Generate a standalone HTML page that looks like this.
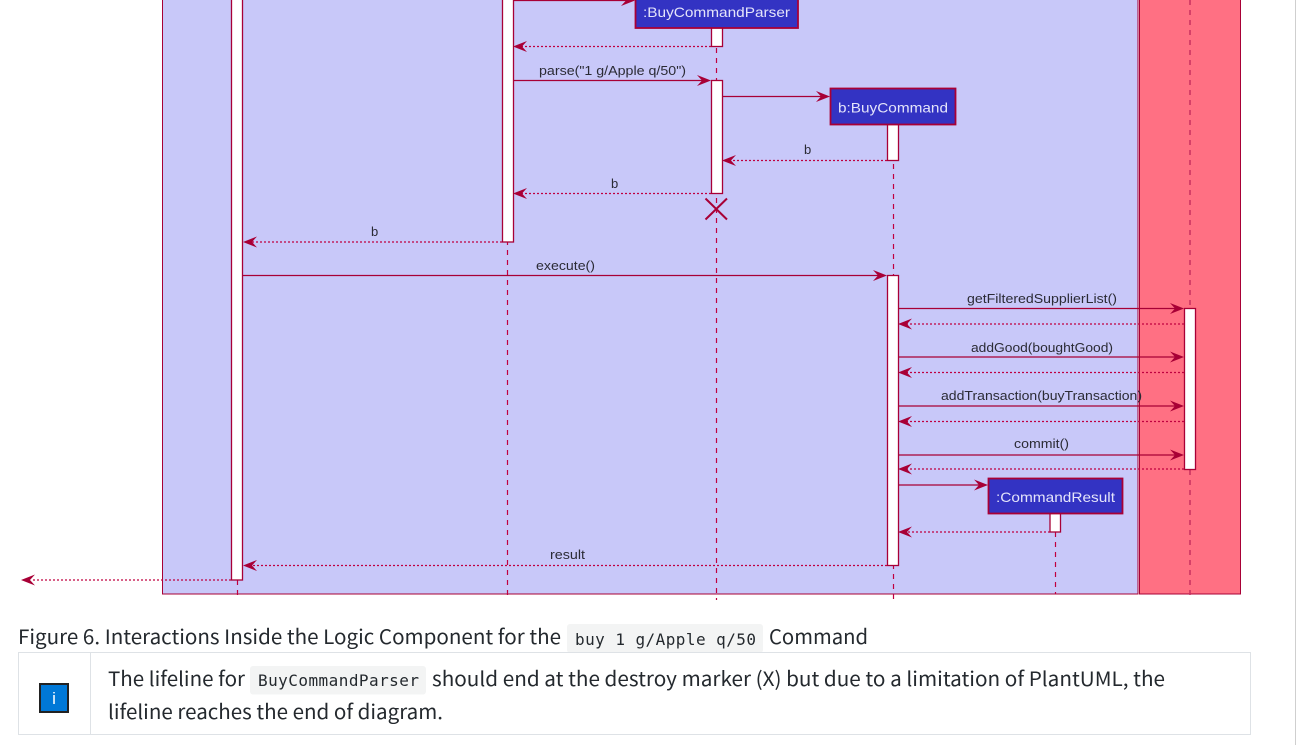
<!DOCTYPE html>
<html><head><meta charset="utf-8"><style>
html,body{margin:0;padding:0;background:#fff;width:1305px;height:745px;overflow:hidden}
svg{display:block}
.t{font-family:"Liberation Sans",sans-serif;font-size:13px;fill:#2b2b35}
.w{font-family:"Liberation Sans",sans-serif;font-size:14px;fill:#e4e4fa}
.c{font-family:"Noto Sans CJK JP","Liberation Sans",sans-serif;font-size:20px;fill:#24292e}
.m{font-family:"DejaVu Sans Mono",monospace;font-size:16px;fill:#24292e}
.l{stroke:#A80036;stroke-width:1.3;fill:none}
.d{stroke:#C00040;stroke-width:1.2;stroke-dasharray:2 2;fill:none}
.ll{stroke:#C00040;stroke-width:1.2;stroke-dasharray:5 5;fill:none}
.a{fill:#fff;stroke:#A80036;stroke-width:1.3}
.p{fill:#3333C3;stroke:#A80036;stroke-width:1.8}
.h{fill:#A80036}
</style></head><body>
<svg width="1305" height="745" viewBox="0 0 1305 745" xmlns="http://www.w3.org/2000/svg">
<rect x="162.5" y="-5" width="975.5" height="599" fill="#C8C8F9" stroke="#A80036" stroke-width="1"/>
<rect x="1139.5" y="-5" width="101" height="599" fill="#FF7083" stroke="#A80036" stroke-width="1"/>

<g class="ll">
<path d="M237.5 0V600"/><path d="M507.5 0V600"/><path d="M716.5 28V600"/><path d="M893.5 124V600"/><path d="M1055.5 532V594"/>
<path d="M1190 0V600" style="stroke:#C8305F;stroke-width:1.5"/>
</g>

<!-- activations -->
<rect class="a" x="231.5" y="-5" width="11" height="585"/>
<rect class="a" x="502.5" y="-5" width="11" height="247"/>
<rect class="a" x="711.5" y="20" width="11" height="26.5"/>
<rect class="a" x="711.5" y="80.5" width="11" height="113"/>
<rect class="a" x="887.5" y="120" width="11" height="40.5"/>
<rect class="a" x="887.5" y="275.5" width="11" height="290"/>
<rect class="a" x="1184.5" y="308.5" width="11" height="161"/>
<rect class="a" x="1050" y="510" width="10.5" height="22"/>

<!-- participants -->
<rect class="p" x="635.5" y="-8" width="162.5" height="36"/>
<text class="w" x="643" y="17" textLength="147" lengthAdjust="spacingAndGlyphs">:BuyCommandParser</text>
<rect class="p" x="830.5" y="88.5" width="125" height="36"/>
<text class="w" x="838" y="112.5" textLength="110" lengthAdjust="spacingAndGlyphs">b:BuyCommand</text>
<rect class="p" x="988.5" y="478.5" width="134" height="35"/>
<text class="w" x="996" y="502" textLength="119" lengthAdjust="spacingAndGlyphs">:CommandResult</text>

<!-- solid messages -->
<g class="l">
<path d="M513.5 0.5H626"/><path d="M513.5 80.5H702"/><path d="M722.5 96.5H822"/>
<path d="M243 275.5H878"/><path d="M898.5 308.5H1175"/><path d="M898.5 357H1175"/>
<path d="M898.5 406H1175"/><path d="M898.5 455H1175"/><path d="M898.5 485H979"/>
</g>
<!-- dashed messages -->
<g class="d">
<path d="M711 46.5H522"/><path d="M887 160.5H731"/><path d="M711 193.5H522"/>
<path d="M502 242H252"/><path d="M1184 324H907"/><path d="M1184 372.5H907"/>
<path d="M1184 421.5H907"/><path d="M1184 469H907"/><path d="M1050 532H907"/>
<path d="M887 565.5H252"/><path d="M231 580H31"/>
</g>
<!-- arrow heads right -->
<g class="h">
<polygon points="635,0.5 621,-5 626,0.5 621,6"/>
<polygon points="711,80.5 697,75 702,80.5 697,86"/>
<polygon points="830,96.5 816,91 821,96.5 816,102"/>
<polygon points="887,275.5 873,270 878,275.5 873,281"/>
<polygon points="1184,308.5 1170,303 1175,308.5 1170,314"/>
<polygon points="1184,357 1170,351.5 1175,357 1170,362.5"/>
<polygon points="1184,406 1170,400.5 1175,406 1170,411.5"/>
<polygon points="1184,455 1170,449.5 1175,455 1170,460.5"/>
<polygon points="988,485 974,479.5 979,485 974,490.5"/>
<!-- arrow heads left -->
<polygon points="513,46.5 527,41 522,46.5 527,52"/>
<polygon points="722,160.5 736,155 731,160.5 736,166"/>
<polygon points="513,193.5 527,188 522,193.5 527,199"/>
<polygon points="243,242 257,236.5 252,242 257,247.5"/>
<polygon points="898,324 912,318.5 907,324 912,329.5"/>
<polygon points="898,372.5 912,367 907,372.5 912,378"/>
<polygon points="898,421.5 912,416 907,421.5 912,427"/>
<polygon points="898,469 912,463.5 907,469 912,474.5"/>
<polygon points="898,532 912,526.5 907,532 912,537.5"/>
<polygon points="243,565.5 257,560 252,565.5 257,571"/>
<polygon points="21,580 35,574.5 30,580 35,585.5"/>
</g>
<path d="M705.5 198.5L727 219.5M727 198.5L705.5 219.5" stroke="#A80036" stroke-width="2" fill="none"/>

<!-- message labels -->
<text class="t" x="539" y="75" textLength="147" lengthAdjust="spacingAndGlyphs">parse("1 g/Apple q/50")</text>
<text class="t" x="804" y="154" textLength="7">b</text>
<text class="t" x="611" y="188" textLength="7">b</text>
<text class="t" x="371" y="236" textLength="7">b</text>
<text class="t" x="536" y="270" textLength="59" lengthAdjust="spacingAndGlyphs">execute()</text>
<text class="t" x="967" y="303" textLength="150" lengthAdjust="spacingAndGlyphs">getFilteredSupplierList()</text>
<text class="t" x="971" y="352" textLength="142" lengthAdjust="spacingAndGlyphs">addGood(boughtGood)</text>
<text class="t" x="941" y="400" textLength="201" lengthAdjust="spacingAndGlyphs">addTransaction(buyTransaction)</text>
<text class="t" x="1014" y="448" textLength="55" lengthAdjust="spacingAndGlyphs">commit()</text>
<text class="t" x="550" y="559" textLength="35" lengthAdjust="spacingAndGlyphs">result</text>

<!-- caption -->
<text class="c" x="18" y="644" textLength="543" lengthAdjust="spacingAndGlyphs">Figure 6. Interactions Inside the Logic Component for the</text>
<rect x="567" y="624" width="196" height="29" rx="3" fill="#f3f4f4"/>
<text class="m" x="575" y="645" textLength="181" lengthAdjust="spacing">buy 1 g/Apple q/50</text>
<text class="c" x="769" y="644" textLength="99" lengthAdjust="spacingAndGlyphs">Command</text>

<!-- admonition -->
<rect x="18.5" y="652.5" width="1232" height="82" fill="#fff" stroke="#dee2e6" stroke-width="1"/>
<path d="M90.5 652.5V734.5" stroke="#dee2e6" stroke-width="1"/>
<rect x="40" y="684" width="28" height="28" fill="#0078D7" stroke="#222" stroke-width="2"/>
<text x="54" y="704" text-anchor="middle" font-family="Liberation Sans,sans-serif" font-size="17" fill="#fff">i</text>
<text class="c" x="108" y="686" textLength="137" lengthAdjust="spacingAndGlyphs">The lifeline for</text>
<rect x="250" y="666" width="176" height="28.5" rx="3" fill="#f3f4f4"/>
<text class="m" x="258" y="686" textLength="161" lengthAdjust="spacing">BuyCommandParser</text>
<text class="c" x="432" y="686" textLength="733" lengthAdjust="spacingAndGlyphs">should end at the destroy marker (X) but due to a limitation of PlantUML, the</text>
<text class="c" x="108" y="719" textLength="335" lengthAdjust="spacingAndGlyphs">lifeline reaches the end of diagram.</text>

<path d="M1295.5 0V745" stroke="#cfcfcf" stroke-width="1"/>
</svg>
</body></html>
